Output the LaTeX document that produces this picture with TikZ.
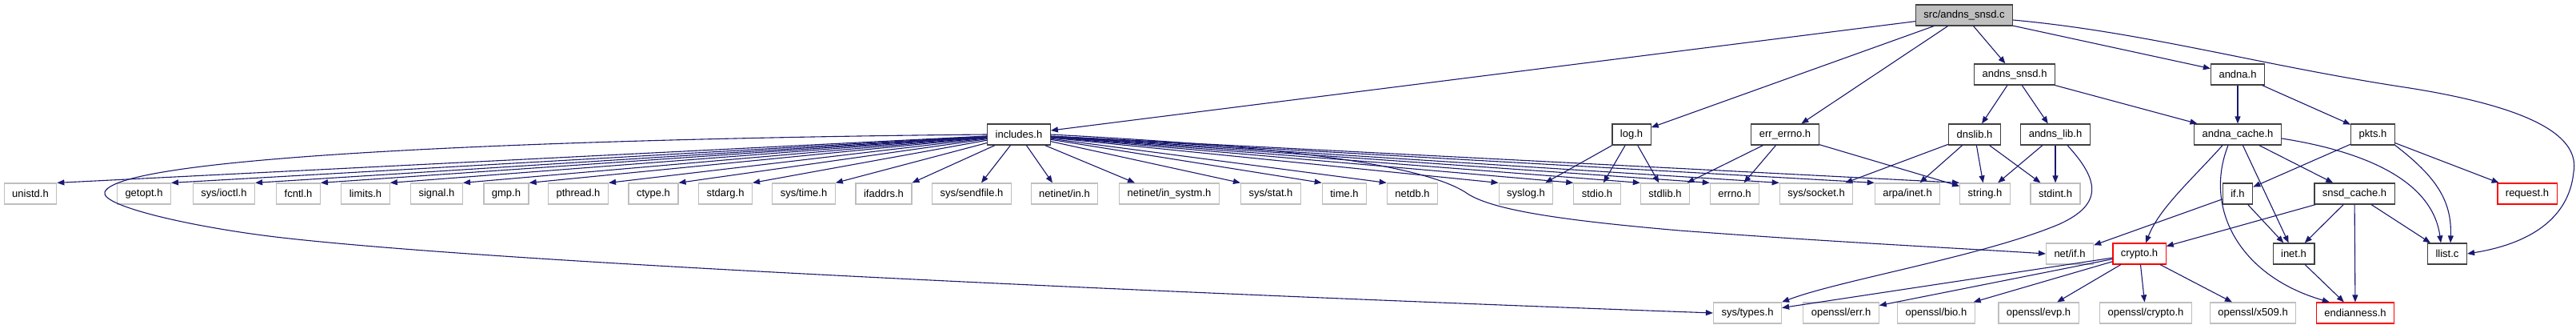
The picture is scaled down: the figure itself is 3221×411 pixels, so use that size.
\documentclass[tikz,border=0pt]{standalone}
\usepackage{fontspec}
\setmainfont{Liberation Sans}
\usepackage{tikz}
\usetikzlibrary{arrows.meta,positioning}
\definecolor{edgeblue}{RGB}{25,25,112}
\definecolor{sysgray}{RGB}{191,191,191}

\begin{document}
\begin{tikzpicture}[
      x=1pt, y=-1pt, on grid,
      every node/.style={font=\fontsize{13}{15}\selectfont},
      box/.style={draw, line width=1.2pt, fill=white, minimum height=26pt,
                  inner xsep=10pt, inner ysep=0pt},
      hdr/.style={box, draw=black!75},
      sys/.style={box, draw=sysgray},
      trunc/.style={box, draw=red},
      root/.style={box, draw=black!75, fill=sysgray},
      dep/.style={-{Triangle[length=9pt, width=7pt]}, line width=1.1pt,
                  draw=edgeblue},
    ]
    \useasboundingbox (0,0) rectangle (3221,411);

    % ── Row 0: source file ──────────────────────────────────
    \node[root] (src) at (2456,19) {src/andns\_snsd.c};

    % ── Row 1 ───────────────────────────────────────────────
    \node[hdr] (snsd) at (2519,93) {andns\_snsd.h};
    \node[hdr, right=279pt of snsd] (andna) {andna.h};

    % ── Row 2 ───────────────────────────────────────────────
    \node[hdr] (incl) at (1274,168) {includes.h};
    \node[hdr, right=766pt of incl] (log) {log.h};
    \node[hdr, right=192pt of log] (errh) {err\_errno.h};
    \node[hdr, right=237pt of errh] (dns) {dnslib.h};
    \node[hdr, right=101pt of dns] (alib) {andns\_lib.h};
    \node[hdr, below=75pt of andna] (acache) {andna\_cache.h};
    \node[hdr, right=169pt of acache] (pkts) {pkts.h};

    % ── Row 3: system headers ───────────────────────────────
    \node[sys] (unistd) at (38,242) {unistd.h};
    \node[sys, right=142pt of unistd] (getopt) {getopt.h};
    \node[sys, right=100pt of getopt] (ioctl) {sys/ioctl.h};
    \node[sys, right=93pt of ioctl] (fcntl) {fcntl.h};
    \node[sys, right=84pt of fcntl] (limits) {limits.h};
    \node[sys, right=89pt of limits] (signal) {signal.h};
    \node[sys, right=87pt of signal] (gmp) {gmp.h};
    \node[sys, right=90pt of gmp] (pthread) {pthread.h};
    \node[sys, right=94pt of pthread] (ctype) {ctype.h};
    \node[sys, right=90pt of ctype] (stdarg) {stdarg.h};
    \node[sys, right=98pt of stdarg] (systime) {sys/time.h};
    \node[sys, right=100pt of systime] (ifaddrs) {ifaddrs.h};
    \node[sys, right=110pt of ifaddrs] (sendfile) {sys/sendfile.h};
    \node[sys, right=116pt of sendfile] (netin) {netinet/in.h};
    \node[sys, right=131pt of netin] (insystm) {netinet/in\_systm.h};
    \node[sys, right=127pt of insystm] (sysstat) {sys/stat.h};
    \node[sys, right=92pt of sysstat] (time) {time.h};
    \node[sys, right=85pt of time] (netdb) {netdb.h};
    \node[sys, right=142pt of netdb] (syslog) {syslog.h};
    \node[sys, right=89pt of syslog] (stdio) {stdio.h};
    \node[sys, right=85pt of stdio] (stdlib) {stdlib.h};
    \node[sys, right=87pt of stdlib] (errno) {errno.h};
    \node[sys, right=102pt of errno] (socket) {sys/socket.h};
    \node[sys, right=114pt of socket] (arpa) {arpa/inet.h};
    \node[sys, right=97pt of arpa] (string) {string.h};
    \node[sys, right=88pt of string] (stdint) {stdint.h};
    \node[hdr, below=74pt of acache] (ifh) {if.h};
    \node[hdr, right=146pt of ifh] (scache) {snsd\_cache.h};
    \node[trunc, right=216pt of scache] (request) {request.h};

    % ── Row 4 ───────────────────────────────────────────────
    \node[sys] (netif) at (2588,317) {net/if.h};
    \node[trunc, right=87pt of netif] (crypto) {crypto.h};
    \node[hdr, right=193pt of crypto] (inet) {inet.h};
    \node[hdr, right=192pt of inet] (llist) {llist.c};

    % ── Row 5: openssl and friends ──────────────────────────
    \node[sys] (types) at (2185,391) {sys/types.h};
    \node[sys, right=117pt of types] (oerr) {openssl/err.h};
    \node[sys, right=119pt of oerr] (obio) {openssl/bio.h};
    \node[sys, right=128pt of obio] (oevp) {openssl/evp.h};
    \node[sys, right=134pt of oevp] (ocrypto) {openssl/crypto.h};
    \node[sys, right=134pt of ocrypto] (ox509) {openssl/x509.h};
    \node[trunc, right=128pt of ox509] (endian) {endianness.h};

    % ── Arrows: src/andns_snsd.c ────────────────────────────
    \draw[dep] (src) -- (incl);
    \draw[dep] (src) -- (log);
    \draw[dep] (src) -- (errh);
    \draw[dep] (src) -- (snsd);
    \draw[dep] (src) -- (andna);
    \draw[dep] ([yshift=-6pt]src.east) .. controls (2680,40) and (2820,80) .. (3000,108)
      .. controls (3180,135) and (3225,175) .. (3218,215)
      .. controls (3212,275) and (3160,305) .. (llist.east);

    % ── Arrows: rows 1 and 2 ────────────────────────────────
    \draw[dep] (snsd) -- (dns);
    \draw[dep] (snsd) -- (alib);
    \draw[dep] (snsd) -- (acache);
    \draw[dep] (andna) -- (acache);
    \draw[dep] (andna) -- (pkts);

    % ── Arrows: includes.h ──────────────────────────────────
    \draw[dep] (incl) -- (unistd.north east);
    \draw[dep] (incl) -- (getopt.north east);
    \draw[dep] (incl) -- (ioctl.north east);
    \draw[dep] (incl) -- (fcntl.north east);
    \draw[dep] (incl) -- (limits.north east);
    \draw[dep] (incl) -- (signal.north east);
    \draw[dep] (incl) -- (gmp.north east);
    \draw[dep] (incl) -- (pthread.north east);
    \draw[dep] (incl) -- (ctype.north east);
    \draw[dep] (incl) -- (stdarg.north east);
    \draw[dep] (incl) -- (systime.north east);
    \draw[dep] (incl) -- (ifaddrs.north east);
    \draw[dep] (incl) -- ([xshift=12pt]sendfile.north);
    \draw[dep] (incl) -- ([xshift=-15pt]netin.north);
    \draw[dep] (incl) -- ([xshift=20pt]insystm.north west);
    \draw[dep] (incl) -- (sysstat.north west);
    \draw[dep] (incl) -- (time.north west);
    \draw[dep] (incl) -- (netdb.north west);
    \draw[dep] (incl) -- (syslog.north west);
    \draw[dep] (incl) -- (stdio.north west);
    \draw[dep] (incl) -- (stdlib.north west);
    \draw[dep] (incl) -- (errno.north west);
    \draw[dep] (incl) -- (socket.north west);
    \draw[dep] (incl) -- (arpa.north west);
    \draw[dep] (incl) -- (string.north west);
    \draw[dep] (incl.west) .. controls (800,172) and (150,190) .. (131,240)
      .. controls (125,258) and (250,286) .. (362,298)
      .. controls (700,335) and (1700,375) .. (types.west);
    \draw[dep] (incl.east) .. controls (1500,178) and (1760,195) .. (1832,240)
      .. controls (1862,262) and (1950,275) .. (2100,288)
      .. controls (2300,303) and (2450,310) .. (netif.west);

    % ── Arrows: log.h, err_errno.h, dnslib.h, andns_lib.h ───
    \draw[dep] (log) -- (syslog);
    \draw[dep] (log) -- (stdio);
    \draw[dep] (log) -- (stdlib);
    \draw[dep] (errh) -- (stdlib);
    \draw[dep] (errh) -- (errno);
    \draw[dep] (errh) -- (string);
    \draw[dep] (dns) -- (socket);
    \draw[dep] (dns) -- (arpa);
    \draw[dep] (dns) -- (string);
    \draw[dep] (dns) -- (stdint);
    \draw[dep] (alib) -- (string);
    \draw[dep] (alib) -- (stdint);
    \draw[dep] ([xshift=15pt]alib.south) .. controls (2625,225) and (2630,255) .. (2575,280)
      .. controls (2480,320) and (2300,350) .. (types.north east);

    % ── Arrows: andna_cache.h, pkts.h ───────────────────────
    \draw[dep] ([xshift=-19pt]acache.south) .. controls (2740,225) and (2700,260)
      .. ([xshift=8pt]crypto.north);
    \draw[dep] ([xshift=-12pt]acache.south) .. controls (2755,260) and (2800,345)
      .. ([xshift=17pt]endian.north west);
    \draw[dep] (acache) -- (inet);
    \draw[dep] (acache) -- (scache);
    \draw[dep] ([yshift=-5pt]acache.east) .. controls (2930,185) and (3040,215)
      .. ([xshift=-8pt]llist.north);
    \draw[dep] (pkts) -- (ifh);
    \draw[dep] (pkts) -- (request);
    \draw[dep] (pkts.south east) .. controls (3045,220) and (3066,250)
      .. ([xshift=4pt]llist.north);

    % ── Arrows: if.h, snsd_cache.h, inet.h ──────────────────
    \draw[dep] (ifh) -- (netif);
    \draw[dep] (ifh) -- (inet);
    \draw[dep] (scache) -- (crypto);
    \draw[dep] (scache) -- (inet);
    \draw[dep] (scache) -- (endian);
    \draw[dep] (scache) -- (llist);
    \draw[dep] (inet) -- (endian);

    % ── Arrows: crypto.h ────────────────────────────────────
    \draw[dep] (crypto) -- (types);
    \draw[dep] (crypto) -- (oerr);
    \draw[dep] (crypto) -- (obio);
    \draw[dep] (crypto) -- (oevp);
    \draw[dep] (crypto) -- (ocrypto);
    \draw[dep] (crypto) -- (ox509);
  \end{tikzpicture}
\end{document}
